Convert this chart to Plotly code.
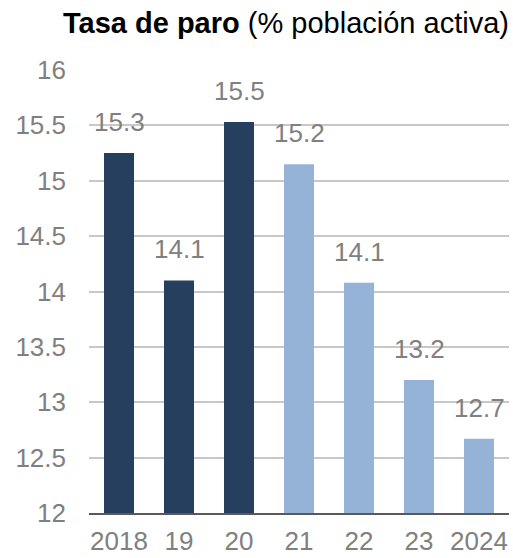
import plotly.graph_objects as go

categories = ["2018", "19", "20", "21", "22", "23", "2024"]
values = [15.25, 14.10, 15.53, 15.15, 14.08, 13.20, 12.67]
labels = ["15.3", "14.1", "15.5", "15.2", "14.1", "13.2", "12.7"]
bar_colors = ["#263F5F", "#263F5F", "#263F5F", "#95B3D7", "#95B3D7", "#95B3D7", "#95B3D7"]
y_ticks = [12, 12.5, 13, 13.5, 14, 14.5, 15, 15.5, 16]

FONT = "Liberation Sans, Arial, sans-serif"
GREY = "#808080"
positions = list(range(len(categories)))

fig = go.Figure()
fig.add_trace(go.Bar(
    x=positions, y=values, marker=dict(color=bar_colors, line=dict(width=0)),
    hoverinfo="skip", width=0.5,
))

for p, v, t in zip(positions, values, labels):
    fig.add_annotation(x=p, y=v, text=t, showarrow=False, yanchor="bottom",
                       yshift=14, font=dict(family=FONT, size=26, color=GREY))

fig.add_annotation(xref="paper", yref="paper", x=1.0, y=1.0, xanchor="right", yanchor="bottom",
                   yshift=29, xshift=2, showarrow=False,
                   text="<b>Tasa de paro</b> (% población activa)",
                   font=dict(family=FONT, size=29, color="#000000"))

fig.update_layout(
    width=513, height=558,
    margin=dict(l=89, r=4, t=70, b=45, autoexpand=False),
    paper_bgcolor="white", plot_bgcolor="white",
    showlegend=False,
    font=dict(family=FONT, size=26, color=GREY),
)
fig.update_xaxes(range=[-0.5, len(categories) - 0.5], tickvals=positions, ticktext=categories,
                 showgrid=False, showline=True, linecolor="#595959", linewidth=2, automargin=False,
                 tickfont=dict(family=FONT, size=26, color=GREY), ticks="", ticklabelstandoff=4)
fig.update_yaxes(range=[12, 16], tickvals=y_ticks, ticktext=[f"{v:g}" for v in y_ticks],
                 showgrid=True, gridcolor="#C8C8C8", gridwidth=2, zeroline=False, showline=False,
                 automargin=False,
                 tickfont=dict(family=FONT, size=26, color=GREY), ticks="", ticklabelstandoff=22)

fig.write_html("out.html", config={"displayModeBar": False},
               post_script="document.body.style.margin='0';document.body.style.overflow='hidden';")
